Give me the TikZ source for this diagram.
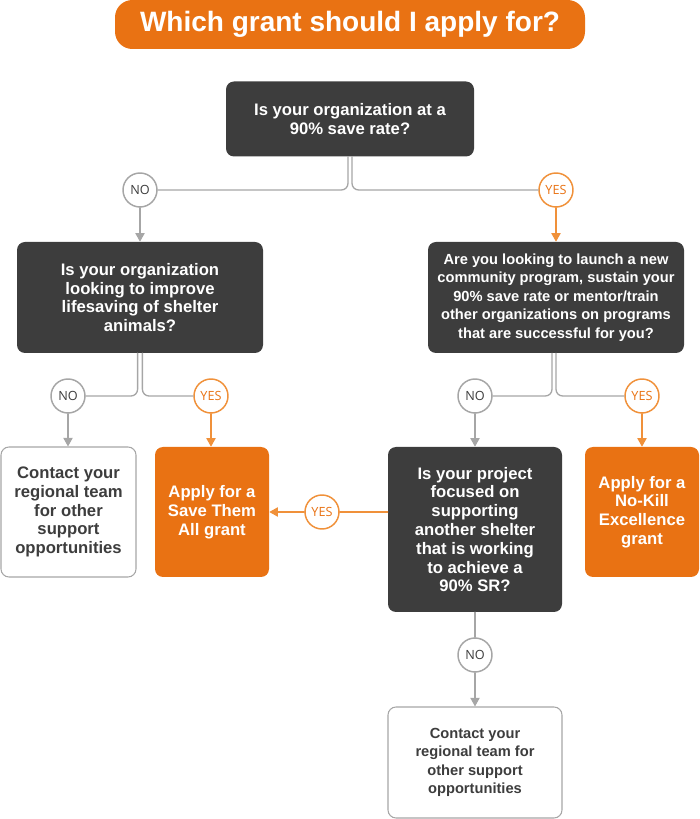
\documentclass[tikz,border=0pt]{standalone}
\usepackage{fontspec}
\setmainfont{Liberation Sans}
\newfontfamily\bubblefont{Open Sans}
\usepackage{xcolor}
\usetikzlibrary{arrows.meta,positioning}
\definecolor{grantorange}{HTML}{E97213}
\definecolor{yesorange}{HTML}{F0913A}
\definecolor{boxdark}{HTML}{3D3D3D}
\definecolor{linegray}{HTML}{A6A6A6}
\tikzset{
  question/.style={rectangle,rounded corners=6pt,fill=boxdark,text=white,
    font=\bfseries\fontsize{12.5}{14.1}\selectfont,align=center,inner sep=0pt},
  smalltext/.style={font=\bfseries\fontsize{11}{13.9}\selectfont},
  answer/.style={question,fill=grantorange},
  contact/.style={question,fill=white,draw=linegray,line width=0.8pt,text=boxdark},
  nobubble/.style={circle,draw=linegray,fill=white,line width=1.1pt,
    minimum size=25.5pt,inner sep=0pt,font=\bubblefont\fontsize{9.5}{9.5}\selectfont,
    text=boxdark},
  yesbubble/.style={nobubble,draw=yesorange,text=grantorange},
  link/.style={linegray,line width=1pt},
  noarrow/.style={link,-{Triangle[width=7pt,length=6.5pt]}},
  yesarrow/.style={noarrow,yesorange}
}

\begin{document}
\begin{tikzpicture}[x=0.75pt,y=0.75pt,line cap=round,line join=round]
  % page frame
  \useasboundingbox (0,0) rectangle (700,819);

  % title
  \node[fill=grantorange,rounded corners=13pt,minimum width=352.5pt,minimum height=36.75pt,
        text=white,font=\bfseries\fontsize{21}{21}\selectfont] (title) at (350,794.5)
        {Which grant should I apply for?};

  % questions
  \node[question,minimum width=186pt,minimum height=56.25pt] (q1) at (350,700)
    {Is your organization at a\\90\% save rate?};
  \node[question,minimum width=184.5pt,minimum height=83.25pt] (q2) at (140,521.5)
    {Is your organization\\looking to improve\\lifesaving of shelter\\animals?};
  \node[question,smalltext,minimum width=192pt,minimum height=83.25pt] (q3) at (556,521.5)
    {Are you looking to launch a new\\community program, sustain your\\90\% save rate or mentor/train\\other organizations on programs\\that are successful for you?};
  \node[question,minimum width=130.5pt,minimum height=123.75pt] (q4) at (475,289.5)
    {Is your project\\focused on\\supporting\\another shelter\\that is working\\to achieve a\\90\% SR?};

  % outcomes
  \node[contact,minimum width=101.25pt,minimum height=97.5pt] (contact1) at (68.5,307)
    {Contact your\\regional team\\for other\\support\\opportunities};
  \node[answer,minimum width=85.5pt,minimum height=97.5pt] (savethem) at (212,307)
    {Apply for a\\Save Them\\All grant};
  \node[answer,minimum width=85.5pt,minimum height=97.5pt] (nokill) at (642,307)
    {Apply for a\\No-Kill\\Excellence\\grant};
  \node[contact,smalltext,minimum width=130.5pt,minimum height=83.25pt] (contact2) at (475,56.5)
    {Contact your\\regional team for\\other support\\opportunities};

  % answer bubbles
  \node[nobubble] (no1) at (140,629) {NO};
  \node[yesbubble] (yes1) at (556,629) {YES};
  \node[nobubble] (no2) at (68,423) {NO};
  \node[yesbubble] (yes2) at (211,423) {YES};
  \node[nobubble] (no3) at (475,423) {NO};
  \node[yesbubble] (yes3) at (642,423) {YES};
  \node[yesbubble] (yes4) at (322,307) {YES};
  \node[nobubble] (no4) at (475,164) {NO};

  % splits under each question
  \draw[link,rounded corners=5pt] ([xshift=-1.5pt]q1.south) |- (no1.east);
  \draw[link,rounded corners=5pt] ([xshift=1.5pt]q1.south) |- (yes1.west);
  \draw[link,rounded corners=5pt] ([xshift=-1.8pt]q2.south) |- (no2.east);
  \draw[link,rounded corners=5pt] ([xshift=1.8pt]q2.south) |- (yes2.west);
  \draw[link,rounded corners=5pt] ([xshift=-3pt]q3.south) |- (no3.east);
  \draw[link,rounded corners=5pt] ([xshift=0pt]q3.south) |- (yes3.west);
  \draw[link,yesorange] (q4.west |- yes4) -- (yes4);
  \draw[link] (q4) -- (no4);

  % arrows into the next box
  \draw[noarrow] (no1) -- (q2);
  \draw[yesarrow] (yes1) -- (q3);
  \draw[noarrow] (no2) -- (no2 |- contact1.north);
  \draw[yesarrow] (yes2) -- (yes2 |- savethem.north);
  \draw[noarrow] (no3) -- (q4);
  \draw[yesarrow] (yes3) -- (nokill);
  \draw[yesarrow] (yes4) -- (savethem.east |- yes4);
  \draw[noarrow] (no4) -- (contact2);
\end{tikzpicture}
\end{document}
